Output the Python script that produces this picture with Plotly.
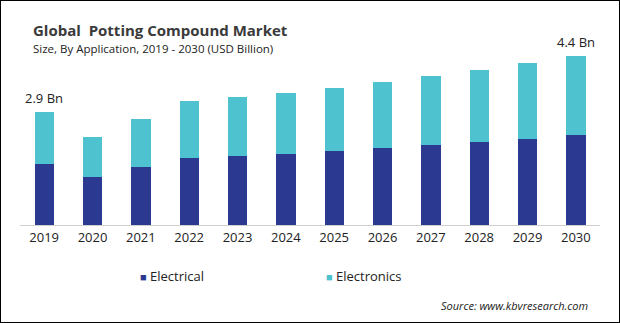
import plotly.graph_objects as go

years = ["2019", "2020", "2021", "2022", "2023", "2024", "2025", "2026", "2027", "2028", "2029", "2030"]
electrical = [1.58, 1.24, 1.50, 1.74, 1.79, 1.84, 1.92, 1.99, 2.07, 2.15, 2.23, 2.33]
electronics = [1.35, 1.04, 1.24, 1.48, 1.53, 1.58, 1.63, 1.71, 1.79, 1.87, 1.97, 2.05]
end_labels = {"2019": "2.9 Bn", "2030": "4.4 Bn"}

c_elec = "#2B3990"
c_tron = "#4EC3CF"
font = "Open Sans"

fig = go.Figure()
fig.add_trace(go.Bar(x=years, y=electrical, name="Electrical", marker_color=c_elec, marker_line_width=0))
fig.add_trace(go.Bar(x=years, y=electronics, name="Electronics", marker_color=c_tron, marker_line_width=0))

totals = [a + b for a, b in zip(electrical, electronics)]
for yr, lab in end_labels.items():
    i = years.index(yr)
    fig.add_annotation(x=i, y=totals[i], text=lab, showarrow=False, yanchor="bottom", yshift=3,
                       font=dict(family=font, size=13, color="#222222"))

fig.update_layout(
    width=620, height=323,
    margin=dict(l=20, r=20, t=50, b=98),
    barmode="stack", bargap=0.6,
    plot_bgcolor="white", paper_bgcolor="white",
    showlegend=False,
    xaxis=dict(type="category", range=[-0.5, len(years) - 0.5], showline=True, linecolor="#d0d0d0",
               linewidth=1, ticks="", showgrid=False,
               tickfont=dict(family=font, size=13, color="#222222")),
    yaxis=dict(range=[0, 4.534], visible=False, showgrid=False),
)

# title and subtitle
fig.add_annotation(xref="paper", yref="paper", x=(31 - 20) / 580, y=1.0, xanchor="left", yanchor="bottom", yshift=8,
                   text="<b>Global  Potting Compound Market</b>", showarrow=False,
                   font=dict(family=font, size=15, color="#3a3a3a"))
fig.add_annotation(xref="paper", yref="paper", x=(31 - 20) / 580, y=1.0, xanchor="left", yanchor="bottom", yshift=-8,
                   text="Size, By Application, 2019 - 2030 (USD Billion)", showarrow=False,
                   font=dict(family=font, size=11.5, color="#222222"))

# legend as annotations
fig.add_annotation(xref="paper", yref="paper", x=(138 - 20) / 580, y=-51 / 175, xanchor="left", yanchor="middle",
                   text=f"<span style='color:{c_elec};font-size:11px'>■</span> Electrical", showarrow=False,
                   font=dict(family=font, size=13, color="#222222"))
fig.add_annotation(xref="paper", yref="paper", x=(324 - 20) / 580, y=-51 / 175, xanchor="left", yanchor="middle",
                   text=f"<span style='color:{c_tron};font-size:11px'>■</span> Electronics", showarrow=False,
                   font=dict(family=font, size=13, color="#222222"))

# source
fig.add_annotation(xref="paper", yref="paper", x=(590 - 20) / 580, y=-80 / 175, xanchor="right", yanchor="middle",
                   text="<i>Source: www.kbvresearch.com</i>", showarrow=False,
                   font=dict(family=font, size=11, color="#222222"))

# border
fig.add_shape(type="rect", xref="paper", yref="paper",
              x0=-20 / 580, x1=600 / 580, y0=-98 / 175, y1=1 + 50 / 175,
              line=dict(color="black", width=2), fillcolor="rgba(0,0,0,0)", layer="above")

fig.write_html("out.html")
